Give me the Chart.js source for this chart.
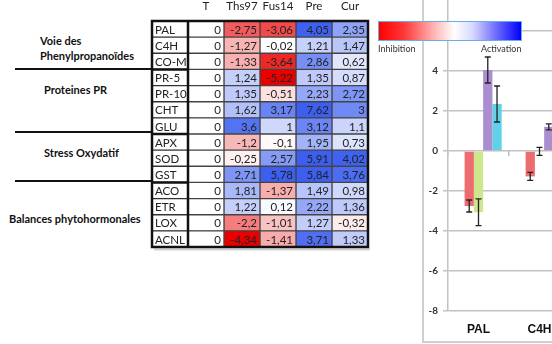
<!DOCTYPE html>
<html>
<head>
<meta charset="utf-8">
<script src="https://cdn.jsdelivr.net/npm/chart.js@4.4.0/dist/chart.umd.min.js"></script>
<style>
  body { margin: 0; background: #fff; width: 552px; height: 344px; overflow: hidden; position: relative; font-family: Lato, sans-serif; }
  .abs { position: absolute; }
  .grp { position: absolute; font: bold 11px Lato, sans-serif; color: #111; white-space: nowrap; }
  .sep { position: absolute; left: 15px; width: 137px; height: 2px; background: #111; }
  #tableCanvas { left: 140px; top: 0; }
  #barFrame { left: 422px; top: -30px; width: 900px; height: 371px; border-left: 2px solid #cfcfcf; border-bottom: 2px solid #cfcfcf; overflow: hidden; }
  #barCanvas { left: 0; top: 0; }
  #scaleBar { left: 378px; top: 21px; width: 142px; height: 18px; border: 1px solid #6aaee6;
    background: linear-gradient(to right, #ff0000 0%, #ff3a3a 18%, #ffb0b0 38%, #ffffff 53%, #d8d8ff 66%, #7070ff 82%, #0000ff 100%); }
  .lg { position: absolute; top: 43px; font: 9px Lato, sans-serif; color: #333; }
</style>
</head>
<body>
<div class="grp" style="left:40px;top:34px">Voie des</div>
<div class="grp" style="left:40px;top:49px">Phenylpropanoïdes</div>
<div class="sep" style="top:68px"></div>
<div class="grp" style="left:44px;top:83px">Proteines PR</div>
<div class="sep" style="top:131px"></div>
<div class="grp" style="left:44px;top:146px">Stress Oxydatif</div>
<div class="sep" style="top:180px"></div>
<div class="grp" style="left:9px;top:212px">Balances phytohormonales</div>

<canvas id="tableCanvas" class="abs" width="240" height="256"></canvas>

<div id="barFrame" class="abs">
  <canvas id="barCanvas" class="abs" width="880" height="371"></canvas>
</div>

<div id="scaleBar" class="abs"></div>
<div class="lg" style="left:378px">Inhibition</div>
<div class="lg" style="left:481px">Activation</div>

<script>
const genes = ['PAL', 'C4H', 'CO-MT', 'PR-5', 'PR-10', 'CHT', 'GLU', 'APX', 'SOD', 'GST', 'ACO', 'ETR', 'LOX', 'ACNL'];
const treatments = ['T', 'Ths97', 'Fus14', 'Pre', 'Cur'];

const valT     = [0, 0, 0, 0, 0, 0, 0, 0, 0, 0, 0, 0, 0, 0];
const valThs97 = [-2.75, -1.27, -1.33, 1.24, 1.35, 1.62, 3.6, -1.2, -0.25, 2.71, 1.81, 1.22, -2.2, -4.34];
const valFus14 = [-3.06, -0.02, -3.64, -5.22, -0.51, 3.17, 1, -0.1, 2.57, 5.78, -1.37, 0.12, -1.01, -1.41];
const valPre   = [4.05, 1.21, 2.86, 1.35, 2.23, 7.62, 3.12, 1.95, 5.91, 5.84, 1.49, 2.22, 1.27, 3.71];
const valCur   = [2.35, 1.47, 0.62, 0.87, 2.72, 3, 1.1, 0.73, 4.02, 3.76, 0.98, 1.36, -0.32, 1.33];

const errThs97 = [0.3, 0.2, null, null, null, null, null, null, null, null, null, null, null, null];
const errFus14 = [0.67, 0.2, null, null, null, null, null, null, null, null, null, null, null, null];
const errPre   = [0.65, 0.15, null, null, null, null, null, null, null, null, null, null, null, null];
const errCur   = [0.9, null, null, null, null, null, null, null, null, null, null, null, null, null];

const groupSizes = [3, 4, 3, 4];
const yTicks = [-8, -6, -4, -2, 0, 2, 4, 6, 8];

const tableSeries = [valT, valThs97, valFus14, valPre, valCur];
const barSeries = [valT, valThs97, valFus14, valPre, valCur];
const barErrors = [null, errThs97, errFus14, errPre, errCur];
const barColors = ['#bbbbbb', 'rgb(236,108,112)', 'rgb(206,230,140)', 'rgb(170,142,208)', 'rgb(96,210,232)'];

function colorFor(v) {
  if (v < 0) {
    const t = Math.min(1, -v / 4.3);
    return `rgb(${Math.round(255 - t * 20)},${Math.round(255 - t * 255)},${Math.round(255 - t * 255)})`;
  }
  const t = Math.min(1, v / 4.1);
  return `rgb(${Math.round(255 - t * 195)},${Math.round(255 - t * 160)},${Math.round(255 - t * 15)})`;
}

function fmt(v) {
  return String(v).replace('.', ',');
}

// ---------- table (heatmap) ----------
const cellText = {
  id: 'cellText',
  afterDatasetsDraw(chart) {
    const ctx = chart.ctx;
    const a = chart.chartArea;
    ctx.save();
    ctx.font = '11.5px Lato, sans-serif';
    ctx.fillStyle = '#222';
    ctx.textBaseline = 'middle';
    // row names in the first column, cut at the column edge like the sheet
    ctx.save();
    ctx.beginPath();
    ctx.rect(a.left, a.top, chart.scales.x.getPixelForValue(1) - a.left - 1, a.bottom - a.top);
    ctx.clip();
    ctx.textAlign = 'left';
    chart.getDatasetMeta(0).data.forEach((el, i) => {
      ctx.fillText(genes[i], Math.min(el.x, el.base) + 3, el.y + 1);
    });
    ctx.restore();
    // values, right aligned
    ctx.textAlign = 'right';
    tableSeries.forEach((vals, j) => {
      const meta = chart.getDatasetMeta(j + 1);
      meta.data.forEach((el, i) => {
        const right = Math.max(el.x, el.base);
        ctx.fillText(fmt(vals[i]), right - 3, el.y + 1);
      });
    });
    ctx.restore();
  }
};

const tableFrame = {
  id: 'tableFrame',
  afterDraw(chart) {
    const ctx = chart.ctx;
    const a = chart.chartArea;
    const x = chart.scales.x;
    const y = chart.scales.y;
    const half = (y.getPixelForValue(1) - y.getPixelForValue(0)) / 2;
    ctx.save();
    ctx.strokeStyle = '#111';
    ctx.lineWidth = 2.5;
    ctx.strokeRect(a.left, a.top, a.right - a.left, a.bottom - a.top);
    const xl = x.getPixelForValue(1);
    ctx.beginPath();
    ctx.moveTo(xl, a.top);
    ctx.lineTo(xl, a.bottom);
    let row = 0;
    groupSizes.slice(0, -1).forEach(n => {
      row += n;
      const yy = y.getPixelForValue(row) - half;
      ctx.moveTo(a.left, yy);
      ctx.lineTo(xl, yy);
    });
    ctx.stroke();
    ctx.strokeStyle = 'rgba(0,0,0,0.18)';
    ctx.lineWidth = 2;
    ctx.beginPath();
    ctx.moveTo(a.left + 2, a.bottom + 2.5);
    ctx.lineTo(a.right + 2, a.bottom + 2.5);
    ctx.stroke();
    ctx.restore();
  }
};

new Chart(document.getElementById('tableCanvas'), {
  type: 'bar',
  data: {
    labels: genes,
    datasets: [
      {
        label: '',
        data: genes.map(() => [0, 1]),
        backgroundColor: '#fff',
        borderColor: '#333',
        borderWidth: 1,
        borderSkipped: false,
        grouped: false,
        barPercentage: 1,
        categoryPercentage: 1
      },
      ...treatments.map((t, j) => ({
        label: t,
        data: tableSeries[j].map(() => [j + 1, j + 2]),
        backgroundColor: tableSeries[j].map(colorFor),
        borderColor: '#444',
        borderWidth: 1,
        borderSkipped: false,
        grouped: false,
        barPercentage: 1,
        categoryPercentage: 1
      }))
    ]
  },
  options: {
    indexAxis: 'y',
    responsive: false,
    animation: false,
    layout: { padding: { left: 12, right: 12, top: 0, bottom: 9 } },
    plugins: { legend: { display: false }, tooltip: { enabled: false } },
    scales: {
      x: { type: 'linear', min: 0, max: treatments.length + 1, display: false },
      xTop: {
        type: 'category',
        labels: ['', ...treatments],
        position: 'top',
        offset: true,
        grid: { display: false },
        border: { display: false },
        ticks: { color: '#222', font: { family: 'Lato', size: 11.5 }, padding: 0, maxRotation: 0 },
        afterFit(scale) { scale.height = 21; }
      },
      y: {
        type: 'category',
        offset: true,
        grid: { display: false },
        border: { display: false },
        ticks: { display: false },
        afterFit(scale) { scale.width = 0; }
      }
    }
  },
  plugins: [cellText, tableFrame]
});

// ---------- bar chart ----------
const errorBars = {
  id: 'errorBars',
  afterDatasetsDraw(chart) {
    const ctx = chart.ctx;
    const ys = chart.scales.y;
    ctx.save();
    ctx.strokeStyle = '#222';
    ctx.lineWidth = 1.3;
    barErrors.forEach((errs, j) => {
      if (!errs) return;
      const meta = chart.getDatasetMeta(j);
      meta.data.forEach((el, i) => {
        const e = errs[i];
        if (e == null) return;
        const v = barSeries[j][i];
        const y1 = ys.getPixelForValue(v + e);
        const y2 = ys.getPixelForValue(v - e);
        ctx.beginPath();
        ctx.moveTo(el.x, y1);
        ctx.lineTo(el.x, y2);
        ctx.moveTo(el.x - 3, y1);
        ctx.lineTo(el.x + 3, y1);
        ctx.moveTo(el.x - 3, y2);
        ctx.lineTo(el.x + 3, y2);
        ctx.stroke();
      });
    });
    ctx.restore();
  }
};

new Chart(document.getElementById('barCanvas'), {
  type: 'bar',
  data: {
    labels: genes,
    datasets: treatments.map((t, j) => ({
      label: t,
      data: barSeries[j],
      backgroundColor: barColors[j],
      borderWidth: 0,
      barPercentage: 1,
      categoryPercentage: 0.76
    }))
  },
  options: {
    responsive: false,
    animation: false,
    layout: { padding: { left: 0, right: 2, top: 21, bottom: 0 } },
    plugins: { legend: { display: false }, tooltip: { enabled: false } },
    scales: {
      x: {
        grid: { display: false, drawTicks: false },
        border: { display: false },
        ticks: { color: '#111', font: { family: 'Liberation Sans', size: 12, weight: 'bold' }, padding: 11, maxRotation: 0 },
        afterFit(scale) { scale.height = 30; }
      },
      xZero: {
        type: 'category',
        labels: genes,
        position: { y: 0 },
        offset: true,
        grid: { offset: true, drawOnChartArea: false, color: '#bdbdbd', lineWidth: 1.5, tickLength: 5 },
        border: { display: false },
        ticks: { display: false }
      },
      y: {
        min: yTicks[0],
        max: yTicks[yTicks.length - 1],
        afterBuildTicks(scale) { scale.ticks = yTicks.map(v => ({ value: v })); },
        grid: { color: '#c2c2c2', lineWidth: 1.5, tickLength: 5 },
        border: { color: '#c2c2c2', width: 1.5 },
        ticks: { color: '#333', font: { family: 'Lato', size: 10, weight: 'bold' }, padding: 5 },
        afterFit(scale) { scale.width = 24; }
      }
    }
  },
  plugins: [errorBars]
});
</script>
</body>
</html>
